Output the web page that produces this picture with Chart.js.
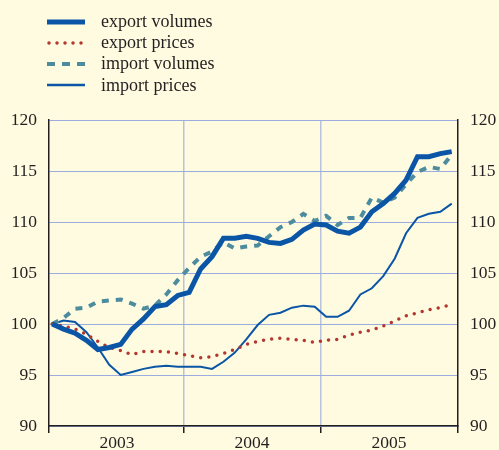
<!DOCTYPE html>
<html>
<head>
<meta charset="utf-8">
<script src="https://cdn.jsdelivr.net/npm/chart.js@4.4.0/dist/chart.umd.min.js"></script>
<style>
  body { margin: 0; background: #fefbe1; }
  #wrap { position: relative; width: 499px; height: 450px; }
  #grafico { position: absolute; left: 0; top: 0; }
  .legenda { position: absolute; left: 47px; top: 11px; font-family: 'Liberation Serif', serif; font-size: 18px; color: #231f20; }
  .legenda div { display: flex; align-items: center; height: 21.2px; }
  .legenda svg { width: 38px; height: 10px; margin-right: 16px; }
</style>
</head>
<body>
<div id="wrap">
  <canvas id="grafico" width="499" height="450"></canvas>
  <div class="legenda">
    <div><svg><line x1="0" y1="5" x2="38" y2="5" stroke="#0a55a6" stroke-width="5"/></svg>export volumes</div>
    <div><svg><line x1="2" y1="5" x2="38" y2="5" stroke="#b3372f" stroke-width="3.5" stroke-linecap="round" stroke-dasharray="0 8"/></svg>export prices</div>
    <div><svg><line x1="0" y1="5" x2="38" y2="5" stroke="#4d8c9e" stroke-width="4" stroke-dasharray="8 7"/></svg>import volumes</div>
    <div><svg><line x1="0" y1="5" x2="38" y2="5" stroke="#0a55a6" stroke-width="2.6"/></svg>import prices</div>
  </div>
</div>
<script>
// meses jan/2003 .. dez/2005, índice 0..35 no eixo x
const meses = [
  '2003-01','2003-02','2003-03','2003-04','2003-05','2003-06','2003-07','2003-08','2003-09','2003-10','2003-11','2003-12',
  '2004-01','2004-02','2004-03','2004-04','2004-05','2004-06','2004-07','2004-08','2004-09','2004-10','2004-11','2004-12',
  '2005-01','2005-02','2005-03','2005-04','2005-05','2005-06','2005-07','2005-08','2005-09','2005-10','2005-11','2005-12'
];

const exportVolumes = [
  100.0, 99.5, 99.1, 98.4, 97.5, 97.7, 98.0, 99.5, 100.5, 101.7, 101.9, 102.8,
  103.1, 105.4, 106.6, 108.4, 108.4, 108.6, 108.4, 108.0, 107.9, 108.3, 109.2, 109.8,
  109.7, 109.1, 108.9, 109.5, 111.0, 111.8, 112.8, 114.1, 116.4, 116.4, 116.7, 116.9
];
const exportPrices = [
  100.0, 99.8, 99.5, 99.0, 98.3, 97.7, 97.4, 97.0, 97.3, 97.3, 97.3, 97.1,
  96.9, 96.7, 96.8, 97.1, 97.5, 98.0, 98.3, 98.5, 98.6, 98.5, 98.4, 98.2,
  98.4, 98.5, 98.9, 99.2, 99.4, 99.8, 100.3, 100.8, 101.1, 101.4, 101.6, 101.9
];
const importVolumes = [
  100.0, 100.6, 101.5, 101.6, 102.2, 102.3, 102.4, 102.0, 101.5, 101.8, 102.9, 104.3,
  105.5, 106.6, 107.1, 108.0, 107.4, 107.6, 107.7, 108.6, 109.5, 110.0, 110.8, 110.1,
  110.6, 109.7, 110.4, 110.4, 112.4, 111.9, 112.4, 113.7, 114.9, 115.4, 115.2, 116.6
];
const importPrices = [
  100.0, 100.35, 100.2, 99.2, 97.7, 96.0, 95.0, 95.3, 95.6, 95.8, 95.9, 95.8,
  95.8, 95.8, 95.6, 96.3, 97.2, 98.5, 99.9, 100.9, 101.1, 101.6, 101.8, 101.7,
  100.7, 100.7, 101.3, 102.9, 103.5, 104.7, 106.4, 108.9, 110.4, 110.8, 111.0, 111.8
];

const anos = ['2003', '2004', '2005'];
// limites dos anos no eixo x (em índice de mês)
const limitesAnos = [-0.28, 11.55, 23.55, 35.55];
const ticksY = [90, 95, 100, 105, 110, 115, 120];

const corTexto = '#231f20';
const fonteEixo = { family: 'Liberation Serif', size: 17.5 };

const pontos = serie => serie.map((v, i) => ({ x: i, y: v }));

const ctx = document.getElementById('grafico').getContext('2d');
window.chartComercio = new Chart(ctx, {
  type: 'line',
  data: {
    labels: meses,
    datasets: [
      { label: 'export volumes', data: pontos(exportVolumes), borderColor: '#0a55a6', borderWidth: 5, pointRadius: 0 },
      { label: 'export prices', data: pontos(exportPrices), borderColor: '#b3372f', borderWidth: 3.5, borderDash: [0, 8.2], borderCapStyle: 'round', pointRadius: 0 },
      { label: 'import volumes', data: pontos(importVolumes), borderColor: '#4d8c9e', borderWidth: 4, borderDash: [7, 7], pointRadius: 0 },
      { label: 'import prices', data: pontos(importPrices), borderColor: '#0a55a6', borderWidth: 2, pointRadius: 0 }
    ]
  },
  options: {
    responsive: false,
    animation: false,
    devicePixelRatio: 1,
    layout: { padding: { top: 120, left: 0, right: 0, bottom: 0 } },
    plugins: { legend: { display: false }, tooltip: { enabled: false } },
    scales: {
      x: {
        type: 'linear',
        min: limitesAnos[0],
        max: limitesAnos[3],
        afterBuildTicks: s => { s.ticks = limitesAnos.map(v => ({ value: v })); },
        afterFit: s => { s.height = 24; },
        ticks: {
          autoSkip: false, maxRotation: 0, labelOffset: 68, padding: 0,
          color: corTexto, font: fonteEixo,
          callback: (v, i) => anos[i] || ''
        },
        grid: {
          color: c => (c.index === 0 || c.index === 3) ? 'rgba(0,0,0,0)' : '#b9c2dc',
          lineWidth: 1.5,
          tickColor: corTexto,
          tickLength: 7
        },
        border: { color: corTexto, width: 1.5 }
      },
      y: {
        position: 'left',
        min: 90, max: 120,
        afterBuildTicks: s => { s.ticks = ticksY.map(v => ({ value: v })); },
        afterFit: s => { s.width = 49; },
        ticks: { padding: 12, color: corTexto, font: fonteEixo },
        grid: { color: '#9dacdf', lineWidth: 1, drawTicks: false },
        border: { color: corTexto, width: 1.5 }
      },
      y2: {
        position: 'right',
        min: 90, max: 120,
        afterBuildTicks: s => { s.ticks = ticksY.map(v => ({ value: v })); },
        afterFit: s => { s.width = 41; },
        ticks: { padding: 12, color: corTexto, font: fonteEixo },
        grid: { drawOnChartArea: false, drawTicks: false },
        border: { color: corTexto, width: 1.5 }
      }
    }
  }
});
</script>
</body>
</html>
